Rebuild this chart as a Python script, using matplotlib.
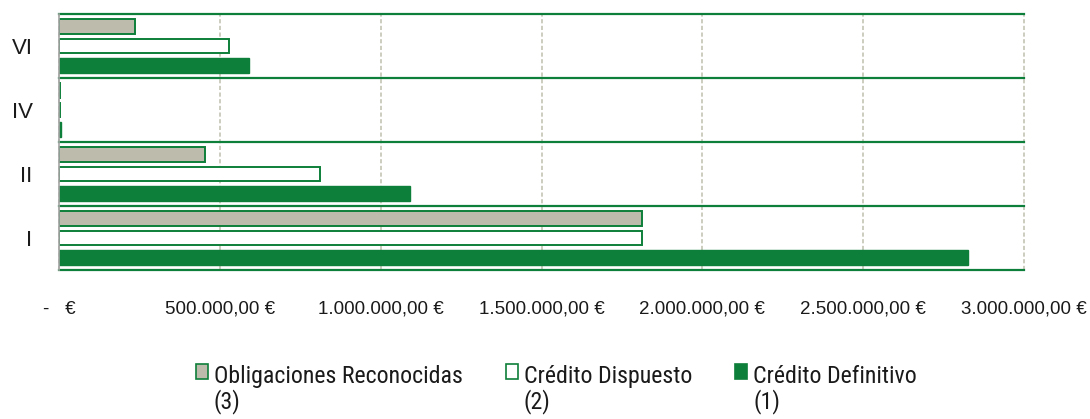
import matplotlib
matplotlib.use("Agg")
import matplotlib.pyplot as plt
from matplotlib.patches import Patch, Rectangle
from matplotlib.legend_handler import HandlerPatch
from matplotlib import font_manager as fm
import numpy as np

# ---- data ----
categories = ["I", "II", "IV", "VI"]
obligaciones = [1812000, 454000, 4000, 237000]      # (3)
dispuesto = [1812000, 811000, 4000, 529000]         # (2)
definitivo = [2826000, 1092000, 5000, 590000]       # (1)
series_labels = ["Obligaciones Reconocidas", "Crédito Dispuesto", "Crédito Definitivo"]
series_notes = ["(3)", "(2)", "(1)"]
xticks = [0, 500000, 1000000, 1500000, 2000000, 2500000, 3000000]
xtick_labels = ["-   €", "500.000,00 €", "1.000.000,00 €", "1.500.000,00 €",
                "2.000.000,00 €", "2.500.000,00 €", "3.000.000,00 €"]

GREEN = "#0e7f3a"
GRAY = "#bdbcac"
GRID = "#c4c3b4"
SPINE = "#a6a6a6"
TXT = "#1a1a1a"

plt.rcParams["font.family"] = ["Liberation Sans", "DejaVu Sans"]


def pick_narrow():
    def regular(f):
        return f.style == "normal" and f.weight in (400, "normal", "regular", "book")
    prefs = ["Liberation Sans Narrow", "Roboto Condensed", "Open Sans Condensed",
             "Noto Sans Condensed", "DejaVu Sans Condensed"]
    for p in prefs:
        for f in fm.fontManager.ttflist:
            if f.name == p and regular(f):
                return fm.FontProperties(fname=f.fname)
    for fam in ["Roboto", "Noto Sans", "Open Sans", "DejaVu Sans"]:
        for f in fm.fontManager.ttflist:
            if f.name == fam and regular(f) and "condensed" in str(f.stretch) \
                    and "extra" not in str(f.stretch) and "ultra" not in str(f.stretch):
                return fm.FontProperties(fname=f.fname)
    return fm.FontProperties(family=["Liberation Sans", "DejaVu Sans"])


W, H = 1090, 419
fig = plt.figure(figsize=(W / 100, H / 100), dpi=100)
ax = fig.add_axes([59 / W, (H - 270) / H, (1024 - 59) / W, (270 - 14) / H])

y = np.arange(len(categories))
h = 0.23
step = 0.30
ax.barh(y - step, definitivo, height=h, color=GREEN, edgecolor=GREEN, linewidth=1.0, zorder=3)
ax.barh(y, dispuesto, height=h, color="white", edgecolor=GREEN, linewidth=1.4, zorder=3)
ax.barh(y + step, obligaciones, height=h, color=GRAY, edgecolor=GREEN, linewidth=1.4, zorder=3)

ax.set_xlim(0, 3000000)
ax.set_ylim(-0.5, len(categories) - 0.5)

# category separators
for b in np.arange(-0.5, len(categories), 1.0):
    ax.axhline(b, color=GREEN, linewidth=1.6, zorder=4, clip_on=False)

ax.set_xticks(xticks)
ax.set_xticklabels(xtick_labels, fontsize=13.5, color=TXT)
ax.set_yticks(y)
ax.set_yticklabels(categories, fontsize=16, color=TXT)
ax.tick_params(axis="x", length=0, pad=22)
ax.tick_params(axis="y", length=0, pad=19)

ax.grid(axis="x", color=GRID, linewidth=1.2, linestyle=(0, (2.5, 1.5)), zorder=1)
for gl in ax.get_xgridlines():
    gl.set_clip_on(False)
ax.set_axisbelow(True)

for s in ["top", "right", "bottom"]:
    ax.spines[s].set_visible(False)
ax.spines["left"].set_color(SPINE)
ax.spines["left"].set_linewidth(1.2)
ax.spines["left"].set_zorder(5)

# legend font: narrow face, sized so the longest label is ~249 px wide
fp = pick_narrow()
fp.set_size(20)
renderer = fig.canvas.get_renderer()
probe = fig.text(0, 0, series_labels[0], fontproperties=fp)
wpx = probe.get_window_extent(renderer).width
probe.remove()
size = min(18.0, 20 * 249.0 / wpx)
fp.set_size(size)


def raised_box(legend, orig_handle, xdescent, ydescent, width, height, fontsize):
    return Rectangle((-xdescent, -ydescent + 0.13 * fontsize), width, height)


face = [GRAY, "white", GREEN]
handles, labels = [], []
for fc, name, note in zip(face, series_labels, series_notes):
    handles.append(Patch(facecolor=fc, edgecolor=GREEN, linewidth=1.2))
    labels.append(name)
    handles.append(Patch(facecolor="none", edgecolor="none"))
    labels.append(note)

leg = fig.legend(handles, labels, ncol=3, loc="upper left",
                 bbox_to_anchor=(196 / W, 1 - 365 / H),
                 frameon=False, borderpad=0, borderaxespad=0,
                 handlelength=0.5, handleheight=0.55, handletextpad=0.25,
                 columnspacing=1.8, labelspacing=0.06,
                 prop=fp,
                 handler_map={Patch: HandlerPatch(patch_func=raised_box)})
for t in leg.get_texts():
    t.set_color(TXT)

fig.savefig("out.png", dpi=100)
